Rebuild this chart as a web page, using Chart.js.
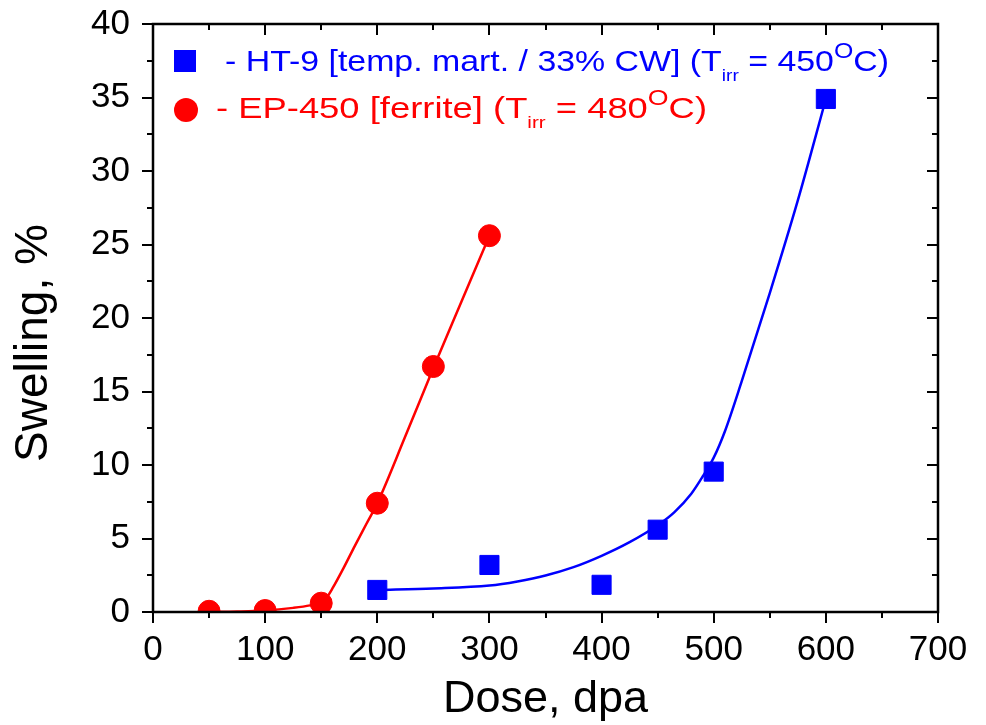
<!DOCTYPE html>
<html><head><meta charset="utf-8">
<script src="https://cdn.jsdelivr.net/npm/chart.js@4.4.1/dist/chart.umd.min.js"></script>
<style>html,body{margin:0;padding:0;background:#fff;}#wrap{width:986px;height:725px;}</style>
</head><body><div id="wrap"><canvas id="c" width="986" height="725"></canvas></div>
<script>
// ---- data ----
const xTickValues = [0, 100, 200, 300, 400, 500, 600, 700];
const yTickValues = [0, 5, 10, 15, 20, 25, 30, 35, 40];
const xMinorStep = 50;
const yMinorStep = 2.5;

const ht9Dose     = [200, 300, 400, 450, 500, 600];
const ht9Swelling = [1.5, 3.2, 1.85, 5.6, 9.55, 34.9];

const ep450Dose     = [50, 100, 150, 200, 250, 300];
const ep450Swelling = [0.05, 0.1, 0.6, 7.4, 16.7, 25.6];

// fitted curves
const ht9FitDose     = [200, 250, 300, 325, 350, 375, 400, 425, 450, 465, 480, 490, 500, 510, 525, 550, 575, 600];
const ht9FitSwelling = [1.5, 1.6, 1.8, 2.08, 2.48, 3.05, 3.82, 4.75, 5.9, 6.8, 8.05, 9.2, 10.5, 12.3, 15.7, 21.7, 28.0, 34.9];

const ep450FitDose     = [50, 75, 100, 125, 140, 150, 155, 160, 170, 180, 190, 200, 225, 250, 275, 300];
const ep450FitSwelling = [0.0, 0.03, 0.1, 0.28, 0.45, 0.65, 1.0, 1.6, 3.0, 4.5, 5.95, 7.4, 11.95, 16.6, 21.1, 25.6];

const xTitle = 'Dose, dpa';
const yTitle = 'Swelling, %';
const legendLines = [
  {color: '#0000ff', marker: 'rect', parts: ['- HT-9 [temp. mart. / 33% CW] (T', 'irr', ' = 450', 'O', 'C)']},
  {color: '#ff0000', marker: 'circle', parts: ['- EP-450 [ferrite] (T', 'irr', ' = 480', 'O', 'C)']}
];

const FONT = '"Liberation Sans", Arial, sans-serif';
const BLUE = '#0000ff', RED = '#ff0000';

const pts = (xs, ys) => xs.map((x, i) => ({x: x, y: ys[i]}));

// ---- plugin: frame, major/minor ticks, y title, legend ----
const decor = {
  id: 'decor',
  afterDatasetsDraw(chart) {
    const {ctx, chartArea: a, scales: {x, y}} = chart;
    ctx.save();
    ctx.strokeStyle = '#000';
    ctx.lineWidth = 2;
    ctx.beginPath();
    const isMajor = (v, arr) => arr.some(t => Math.abs(t - v) < 1e-9);
    for (let v = x.min; v <= x.max + 1e-9; v += xMinorStep) {
      const px = Math.round(x.getPixelForValue(v));
      const len = isMajor(v, xTickValues) ? 11 : 6;
      ctx.moveTo(px, a.bottom); ctx.lineTo(px, a.bottom + len);
      ctx.moveTo(px, a.top); ctx.lineTo(px, a.top + len);
    }
    for (let v = y.min; v <= y.max + 1e-9; v += yMinorStep) {
      const py = Math.round(y.getPixelForValue(v));
      const len = isMajor(v, yTickValues) ? 11 : 6;
      ctx.moveTo(a.left, py); ctx.lineTo(a.left - len, py);
      ctx.moveTo(a.right, py); ctx.lineTo(a.right - len, py);
    }
    ctx.stroke();
    ctx.lineWidth = 2.5;
    ctx.strokeRect(a.left, a.top, a.right - a.left, a.bottom - a.top);

    // y axis title
    ctx.save();
    ctx.fillStyle = '#000';
    ctx.font = '46px ' + FONT;
    ctx.translate(34, 343);
    ctx.rotate(-Math.PI / 2);
    ctx.textAlign = 'center';
    ctx.textBaseline = 'middle';
    ctx.fillText(yTitle, 0, 0);
    ctx.restore();

    // legend
    const rows = [
      {mx: 185, my: 61, tx: 225, base: 71, width: 664},
      {mx: 186, my: 110, tx: 216, base: 118, width: 491}
    ];
    legendLines.forEach((L, i) => {
      const r = rows[i];
      ctx.fillStyle = L.color;
      if (L.marker === 'rect') {
        ctx.fillRect(r.mx - 11, r.my - 11, 22, 22);
      } else {
        ctx.beginPath(); ctx.arc(r.mx, r.my, 12, 0, Math.PI * 2); ctx.fill();
      }
      const segs = [
        {t: L.parts[0], s: 30, dy: 0},
        {t: L.parts[1], s: 17, dy: 10},
        {t: L.parts[2], s: 30, dy: 0},
        {t: L.parts[3], s: 22, dy: -13},
        {t: L.parts[4], s: 30, dy: 0}
      ];
      let w = 0;
      segs.forEach(sg => { ctx.font = sg.s + 'px ' + FONT; sg.w = ctx.measureText(sg.t).width; w += sg.w; });
      const sx = r.width / w;
      ctx.save();
      ctx.translate(r.tx, r.base);
      ctx.scale(sx, 1);
      ctx.textBaseline = 'alphabetic';
      ctx.textAlign = 'left';
      let cx = 0;
      segs.forEach(sg => {
        ctx.font = sg.s + 'px ' + FONT;
        ctx.fillText(sg.t, cx, sg.dy);
        cx += sg.w;
      });
      ctx.restore();
    });
    ctx.restore();
  }
};

new Chart(document.getElementById('c'), {
  type: 'scatter',
  data: {
    datasets: [
      {label: 'HT-9', data: pts(ht9Dose, ht9Swelling), showLine: false, pointStyle: 'rect',
       pointRadius: 13.5, pointHoverRadius: 13.5, backgroundColor: BLUE, borderColor: BLUE, pointBorderWidth: 1, order: 0},
      {label: 'EP-450', data: pts(ep450Dose, ep450Swelling), showLine: false, pointStyle: 'circle',
       pointRadius: 11, pointHoverRadius: 11, backgroundColor: RED, borderColor: RED, pointBorderWidth: 1, order: 0},
      {label: 'HT-9 fit', data: pts(ht9FitDose, ht9FitSwelling), showLine: true, pointRadius: 0,
       borderColor: BLUE, borderWidth: 2.5, cubicInterpolationMode: 'monotone', order: 1},
      {label: 'EP-450 fit', data: pts(ep450FitDose, ep450FitSwelling), showLine: true, pointRadius: 0,
       borderColor: RED, borderWidth: 2.5, cubicInterpolationMode: 'monotone', order: 1}
    ]
  },
  options: {
    responsive: false,
    animation: false,
    layout: {padding: {top: 24, right: 48, left: 0, bottom: 0}},
    plugins: {legend: {display: false}, tooltip: {enabled: false}},
    scales: {
      x: {
        type: 'linear', position: 'bottom', min: 0, max: 700,
        afterBuildTicks: s => { s.ticks = xTickValues.map(v => ({value: v})); },
        afterFit: s => { s.height = 113; },
        grid: {display: false, drawTicks: false}, border: {display: false},
        ticks: {padding: 17, color: '#000', font: {family: FONT, size: 35}, maxRotation: 0, autoSkip: false},
        title: {display: true, text: xTitle, color: '#000', font: {family: FONT, size: 45, lineHeight: 1}, padding: {top: 0, bottom: 3}}
      },
      y: {
        type: 'linear', position: 'left', min: 0, max: 40,
        afterBuildTicks: s => { s.ticks = yTickValues.map(v => ({value: v})); },
        afterFit: s => { s.width = 153; s.paddingTop = 0; s.paddingBottom = 0; },
        grid: {display: false, drawTicks: false}, border: {display: false},
        ticks: {padding: 23, color: '#000', font: {family: FONT, size: 35}, autoSkip: false},
        title: {display: false, text: yTitle}
      }
    }
  },
  plugins: [decor]
});
</script></body></html>
